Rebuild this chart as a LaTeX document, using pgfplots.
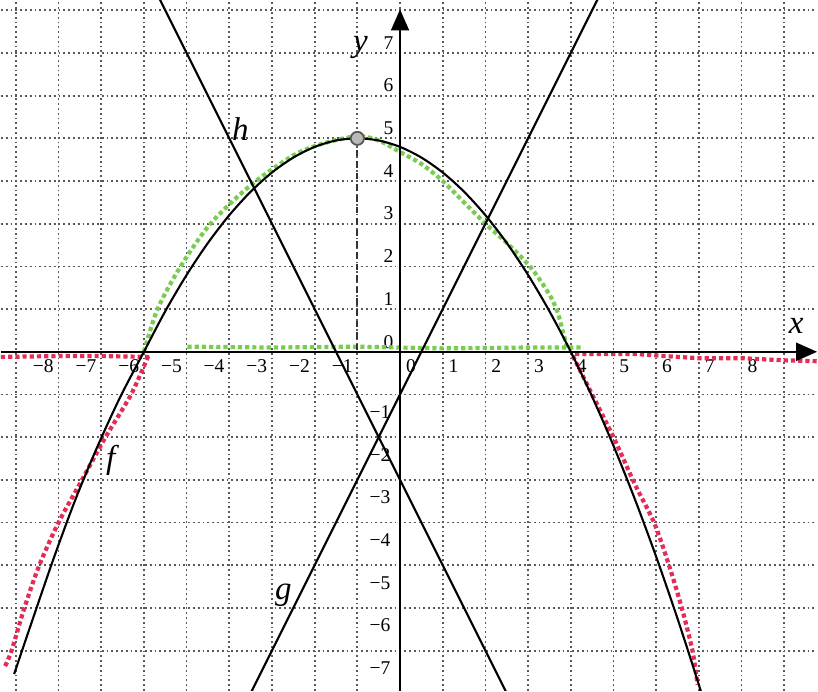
\documentclass[border=0pt]{standalone}
\usepackage{fontspec}
\setmainfont{Liberation Serif}
\usepackage{pgfplots}
\pgfplotsset{compat=1.18}
\usetikzlibrary{arrows.meta}

\definecolor{penred}{RGB}{228,45,85}
\definecolor{pengreen}{RGB}{120,205,80}

\begin{document}
\begin{tikzpicture}
\begin{axis}[
    x=0.5cm, y=0.5cm,
    xmin=-9.35, xmax=9.77, ymin=-7.94, ymax=8.22,
    axis lines=middle,
    axis line style={draw=none},
    hide obscured x ticks=false,
    hide obscured y ticks=false,
    xtick={0,...,8},
    xticklabels={0,1,2,3,4,5,6,7,8},
    ytick={0,...,7},
    yticklabels={0,1,2,3,4,5,6,7},
    minor xtick={-9,...,9},
    minor ytick={-7,...,8},
    extra x ticks={-8,-7,-6,-5,-4,-3,-2,-1},
    extra x tick labels={−8,−7,−6,−5,−4,−3,−2,−1},
    extra y ticks={-7,-6,-5,-4,-3,-2,-1},
    extra y tick labels={−7,−6,−5,−4,−3,−2,−1},
    extra x tick style={xticklabel style={anchor=north east, xshift=-1.2pt}},
    extra y tick style={yticklabel style={anchor=north east, xshift=-1pt, yshift=-2.5pt}},
    grid=both,
    grid style={black!65, densely dotted, line width=0.6pt},
    major grid style={black!65, densely dotted, line width=0.6pt},
    minor grid style={black!65, densely dotted, line width=0.6pt},
    major tick length=0pt,
    minor tick length=0pt,
    tick label style={font=\fontsize{6.5}{7}\selectfont, inner sep=1pt},
    xticklabel style={anchor=north west, xshift=0.8pt, yshift=-1.5pt},
    yticklabel style={anchor=south east, xshift=-1pt},
]

% green: positive part of f, hand drawn
\addplot[pengreen, densely dotted, line width=1.4pt, smooth] coordinates {
    (-6,0) (-5.68,1) (-5.14,2) (-4.44,3) (-3.5,3.9) (-2.5,4.6)
    (-1.8,4.88) (-1,5.05) (-0.5,4.95) (0,4.68) (0.5,4.4) (1,4.0)
    (1.5,3.5) (2,3.0) (2.5,2.55) (3,2.05) (3.3,1.65) (3.55,1.25)
    (3.7,0.9) (3.82,0.45) (3.93,0.05)
};
\addplot[pengreen, densely dotted, line width=1.4pt] coordinates {
    (-4.98,0.12) (-3,0.1) (-1,0.12) (1,0.08) (3,0.1) (4.3,0.1)
};

% red: negative part of f, hand drawn
\addplot[penred, densely dotted, line width=1.4pt] coordinates {
    (-9.35,-0.12) (-8,-0.1) (-7,-0.1) (-5.85,-0.12)
};
\addplot[penred, densely dotted, line width=1.4pt, smooth] coordinates {
    (-5.9,-0.1) (-6.3,-1) (-6.9,-2) (-7.45,-3) (-8.0,-4)
    (-8.45,-5) (-8.8,-6) (-9.1,-7) (-9.27,-7.4)
};
\addplot[penred, densely dotted, line width=1.4pt, smooth] coordinates {
    (4.05,-0.1) (4.5,-1.0) (5.0,-2.0) (5.5,-3.1) (5.95,-4.0)
    (6.3,-5.0) (6.6,-6.0) (6.85,-7.0) (6.97,-7.8)
};
\addplot[penred, densely dotted, line width=1.4pt] coordinates {
    (4.1,-0.05) (5.5,-0.05) (6.2,-0.1) (7,-0.15) (8,-0.15) (9,-0.2) (9.77,-0.22)
};

% f
\addplot[black, line width=0.7pt, smooth] coordinates {
    (-9.04,-7.55) (-8.6,-6.25) (-8.1,-4.8) (-7.6,-3.45) (-7.08,-2.2)
    (-6.55,-1.05) (-6,0) (-5.5,0.95) (-5,1.8) (-4.5,2.55) (-4,3.2)
    (-3.5,3.75) (-3,4.2) (-2.5,4.55) (-2,4.8) (-1.5,4.95) (-1,5)
    (-0.5,4.95) (0,4.8) (0.5,4.55) (1,4.2) (1.5,3.75) (2,3.2)
    (2.5,2.55) (3,1.8) (3.5,0.95) (4,0) (4.5,-1.05) (5,-2.2)
    (5.5,-3.45) (6,-4.8) (6.5,-6.25) (7,-7.8) (7.5,-9.45)
};
% g
\addplot[black, line width=0.7pt] coordinates {(-4,-9) (5,9)};
% h
\addplot[black, line width=0.7pt] coordinates {(-6,9) (3,-9)};

% vertex
\addplot[black!80, line width=0.6pt, dash pattern=on 2.2pt off 1.6pt] coordinates {(-1,5) (-1,0)};
\addplot[only marks, mark=*, mark size=2.2pt,
    mark options={fill=gray!55, draw=black!65, line width=0.6pt}] coordinates {(-1,5)};

% axes
\addplot[black, line width=0.8pt, -{Triangle[length=7pt,width=6pt]}] coordinates {(-9.35,0) (9.77,0)};
\addplot[black, line width=0.6pt, -{Triangle[length=7pt,width=6pt]}] coordinates {(0,-7.94) (0,8.02)};

\node[font=\fontsize{11}{12}\selectfont\itshape] at (axis cs:-3.74,5.22) {h};
\node[font=\fontsize{11}{12}\selectfont\itshape] at (axis cs:-6.78,-2.55) {f};
\node[font=\fontsize{11}{12}\selectfont\itshape] at (axis cs:-2.73,-5.71) {g};
\node[font=\fontsize{11}{12}\selectfont\itshape] at (axis cs:9.28,0.61) {x};
\node[font=\fontsize{11}{12}\selectfont\itshape] at (axis cs:-0.93,7.12) {y};
\end{axis}
\end{tikzpicture}
\end{document}
